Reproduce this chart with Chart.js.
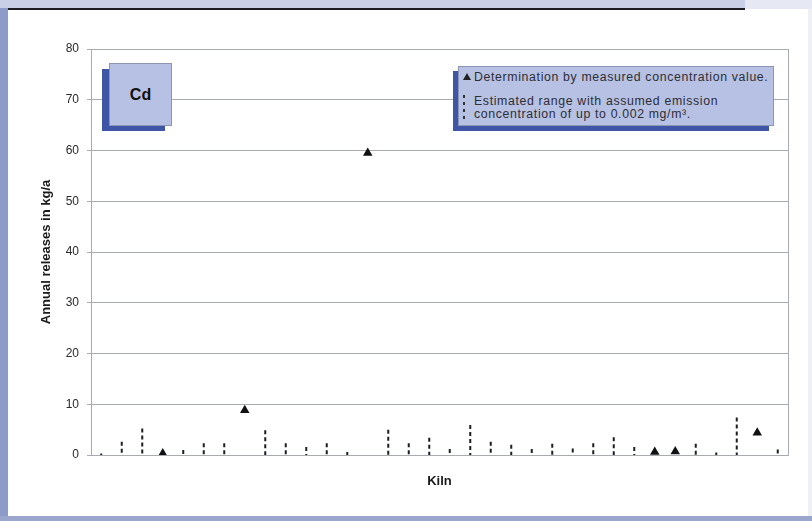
<!DOCTYPE html>
<html>
<head>
<meta charset="utf-8">
<script src="https://cdn.jsdelivr.net/npm/chart.js@4/dist/chart.umd.min.js"></script>
<style>
  html, body { margin: 0; padding: 0; background: #fff; }
  #frame { position: relative; width: 812px; height: 521px; overflow: hidden; background: #fff;
           font-family: "Liberation Sans", Arial, sans-serif; }
  .band-top { position: absolute; left: 0; top: 0; width: 812px; height: 8px; background: #c9cfe6; }
  .band-top-right { position: absolute; left: 745px; top: 0; width: 67px; height: 9px; background: #e6e9f3; }
  .rule-top { position: absolute; left: 8px; top: 8px; width: 737px; height: 2px; background: #1c1c22; }
  .strip-left { position: absolute; left: 0; top: 8px; width: 8px; height: 513px; background: #8e9bc9; }
  .band-bottom { position: absolute; left: 0; top: 516px; width: 812px; height: 5px; background: #9aa6cc; }
  .edge-right { position: absolute; left: 808px; top: 9px; width: 4px; height: 507px; background: #eef0f6; }
  #wrap { position: absolute; left: 0; top: 0; width: 812px; height: 521px; }
  .box-shadow { position: absolute; background: #3f55a6; }
  .box-face { position: absolute; background: #b7c1e3; border: 1px solid #8c95b4; box-sizing: border-box; }
  #tag-face { left: 109px; top: 63px; width: 63px; height: 63px;
              display: flex; align-items: center; justify-content: center;
              font-weight: bold; font-size: 16px; color: #111; }
  #key-face { left: 458px; top: 66px; width: 316px; height: 60px; color: #2e2e36;
              font-size: 12.3px; letter-spacing: 0.65px; }
  .key-row { position: absolute; left: 0; white-space: nowrap; }
  .tri { position: absolute; left: 4px; top: 6px; width: 0; height: 0;
         border-left: 4px solid transparent; border-right: 4px solid transparent; border-bottom: 7px solid #222; }
  .dots { position: absolute; left: 4px; top: 28px; width: 2px; height: 24px;
          background: repeating-linear-gradient(to bottom, #333 0 3px, transparent 3px 7px); }
</style>
</head>
<body>
<div id="frame">
  <div class="band-top"></div>
  <div class="band-top-right"></div>
  <div class="strip-left"></div>
  <div class="edge-right"></div>
  <div class="band-bottom"></div>
  <div class="rule-top"></div>
  <div id="wrap"><canvas id="chart"></canvas></div>

  <div class="box-shadow" style="left:102px; top:69px; width:63px; height:62px;"></div>
  <div class="box-face" id="tag-face">Cd</div>

  <div class="box-shadow" style="left:453px; top:71px; width:316px; height:60px;"></div>
  <div class="box-face" id="key-face">
    <div class="tri"></div>
    <div class="key-row" style="left:15px; top:3px;">Determination by measured concentration value.</div>
    <div class="dots"></div>
    <div class="key-row" style="left:15px; top:27px;">Estimated range with assumed emission</div>
    <div class="key-row" style="left:15px; top:40px;">concentration of up to 0.002 mg/m³.</div>
  </div>
</div>

<script>
// Annual Cd releases per kiln (kg/a)
const kilns = Array.from({ length: 34 }, (_, i) => String(i + 1));

// Kilns with a measured concentration value
const measured = [
  null, null, null, 0.3, null, null, null, 8.8, null, null,
  null, null, null, 59.5, null, null, null, null, null, null,
  null, null, null, null, null, null, null, 0.6, 0.7, null,
  null, null, 4.4, null
];

// Upper end of the estimated range (range starts at 0)
const rangeMax = [
  0.3, 2.6, 5.2, null, 1.0, 2.3, 2.3, null, 4.9, 2.3,
  1.6, 2.3, 0.6, null, 5.0, 2.3, 3.4, 1.2, 5.9, 2.6,
  2.0, 1.2, 2.2, 1.3, 2.3, 3.5, 1.6, null, null, 2.2,
  0.5, 7.4, null, 1.1
];

const yTicks = [0, 10, 20, 30, 40, 50, 60, 70, 80];

// Each range is a vertical segment from its upper value down to 0, separated by gaps
const rangeSegments = [];
kilns.forEach((k, i) => {
  if (rangeMax[i] == null) return;
  rangeSegments.push({ x: k, y: rangeMax[i] });
  rangeSegments.push({ x: k, y: 0 });
  rangeSegments.push({ x: k, y: null });
});

// Right-hand frame line of the plot area
const plotFrame = {
  id: 'plotFrame',
  afterDraw(chart) {
    const { ctx, chartArea: a } = chart;
    ctx.save();
    ctx.strokeStyle = '#a9abb3';
    ctx.lineWidth = 1;
    ctx.beginPath();
    ctx.moveTo(Math.round(a.right) + 0.5, a.top);
    ctx.lineTo(Math.round(a.right) + 0.5, a.bottom);
    ctx.stroke();
    ctx.restore();
  }
};

new Chart(document.getElementById('chart'), {
  type: 'line',
  data: {
    labels: kilns,
    datasets: [
      {
        label: 'Estimated range',
        data: rangeSegments,
        borderColor: '#1e1e1e',
        borderWidth: 2,
        borderDash: [4, 3],
        pointRadius: 0,
        spanGaps: false,
        fill: false
      },
      {
        label: 'Measured',
        data: measured,
        showLine: false,
        pointStyle: 'triangle',
        pointRadius: 5.5,
        pointBackgroundColor: '#111',
        pointBorderColor: '#111',
        pointBorderWidth: 0
      }
    ]
  },
  plugins: [plotFrame],
  options: {
    responsive: true,
    maintainAspectRatio: false,
    animation: false,
    layout: { padding: { left: 35, right: 24, top: 49, bottom: 28 } },
    plugins: { legend: { display: false }, tooltip: { enabled: false } },
    scales: {
      x: {
        type: 'category',
        offset: true,
        grid: { display: false },
        border: { display: true, color: '#a9abb3', width: 1 },
        ticks: { display: false },
        title: {
          display: true, text: 'Kiln', color: '#1a1a1a',
          font: { family: 'Liberation Sans', size: 13, weight: 'bold' }
        },
        afterFit(s) { s.height = 38; }
      },
      y: {
        min: 0, max: 80,
        afterBuildTicks(s) { s.ticks = yTicks.map(v => ({ value: v })); },
        grid: { color: '#a9abb3', lineWidth: 1, tickLength: 4 },
        border: { display: true, color: '#a9abb3', width: 1 },
        ticks: {
          padding: 8, color: '#2a2a2a',
          font: { family: 'Liberation Sans', size: 12 }
        },
        title: {
          display: true, text: 'Annual releases in kg/a', color: '#1a1a1a',
          font: { family: 'Liberation Sans', size: 13, weight: 'bold' }
        },
        afterFit(s) { s.width = 56; }
      }
    }
  }
});
</script>
</body>
</html>
